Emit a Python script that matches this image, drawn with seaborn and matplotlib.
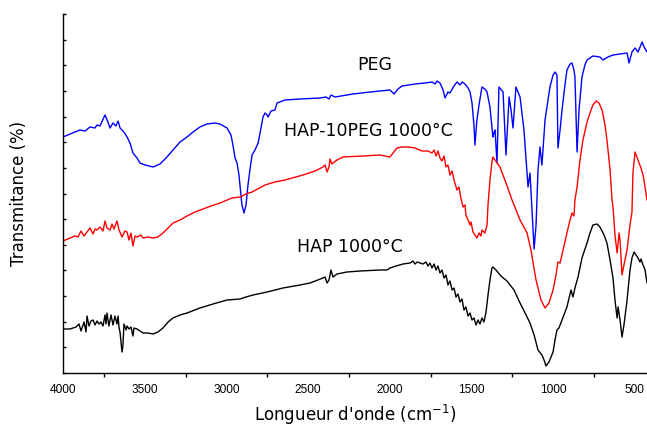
import matplotlib
matplotlib.use("Agg")
import matplotlib.pyplot as plt
from matplotlib.ticker import MultipleLocator, NullFormatter
import seaborn as sns
import pandas as pd

# ---- data (wavenumber in cm-1, transmittance in arbitrary units) ----
peg_wn = [4000, 3957, 3896, 3865, 3835, 3804, 3792, 3774, 3743, 3725, 3712, 3694, 3676, 3663, 3651,
          3627, 3608, 3590, 3572, 3547, 3529, 3498, 3449, 3406, 3364, 3327, 3284, 3241, 3204, 3162,
          3119, 3070, 3039, 2996, 2972, 2960, 2947, 2935, 2923, 2911, 2905, 2892, 2880, 2868, 2856,
          2843, 2825, 2806, 2794, 2776, 2764, 2751, 2745, 2727, 2703, 2690, 2641, 2550, 2427, 2390,
          2372, 2360, 2335, 2225, 2121, 2060, 1999, 1974, 1950, 1925, 1846, 1785, 1742, 1723, 1711,
          1693, 1674, 1662, 1644, 1632, 1607, 1589, 1570, 1558, 1540, 1521, 1509, 1497, 1485, 1479,
          1467, 1454, 1436, 1418, 1405, 1387, 1369, 1363, 1356, 1344, 1332, 1307, 1289, 1270, 1258,
          1246, 1228, 1203, 1179, 1154, 1142, 1130, 1117, 1105, 1093, 1081, 1069, 1050, 1032, 1020,
          1001, 989, 977, 971, 958, 946, 928, 916, 897, 885, 873, 867, 854, 842, 824,
          806, 793, 757, 714, 696, 665, 634, 591, 548, 536, 518, 499, 481, 463, 456,
          444, 426]
peg_t = [236, 239, 243, 242, 246, 245, 248, 247, 258, 251, 245, 250, 247, 252, 245,
         241, 236, 230, 220, 215, 210, 208, 206, 209, 216, 223, 231, 236, 241, 246,
         249, 250, 249, 245, 238, 228, 215, 210, 198, 178, 168, 160, 168, 188, 203,
         218, 223, 230, 240, 256, 260, 258, 256, 262, 263, 270, 273, 274, 275, 276,
         274, 278, 276, 279, 281, 282, 283, 279, 284, 287, 289, 290, 291, 289, 292,
         290, 283, 275, 281, 280, 287, 291, 288, 291, 289, 285, 281, 270, 248, 228,
         253, 268, 286, 284, 281, 266, 236, 240, 243, 210, 286, 281, 218, 276, 263,
         245, 286, 276, 243, 186, 200, 163, 124, 148, 203, 226, 208, 253, 273, 286,
         298, 301, 298, 225, 243, 263, 288, 303, 309, 310, 303, 296, 221, 263, 296,
         308, 313, 317, 316, 313, 316, 318, 319, 320, 310, 321, 325, 321, 328, 331,
         326, 321]

hap10peg_wn = [4000, 3957, 3927, 3908, 3890, 3871, 3853, 3835, 3816, 3804, 3792, 3774, 3755, 3743, 3731,
               3712, 3700, 3688, 3670, 3657, 3639, 3621, 3608, 3596, 3584, 3572, 3559, 3547, 3523, 3510,
               3480, 3449, 3419, 3388, 3357, 3327, 3284, 3241, 3192, 3143, 3094, 3039, 2996, 2966, 2917,
               2880, 2843, 2764, 2703, 2641, 2531, 2458, 2409, 2396, 2384, 2372, 2366, 2354, 2348, 2323,
               2287, 2164, 2060, 1999, 1980, 1956, 1925, 1889, 1846, 1803, 1766, 1742, 1729, 1717, 1705,
               1693, 1681, 1668, 1656, 1644, 1632, 1619, 1607, 1589, 1577, 1564, 1552, 1540, 1534, 1521,
               1509, 1503, 1491, 1479, 1467, 1454, 1442, 1436, 1418, 1405, 1399, 1387, 1375, 1369, 1356,
               1326, 1289, 1252, 1203, 1160, 1136, 1124, 1105, 1093, 1075, 1050, 1026, 1001, 983, 971,
               958, 940, 916, 897, 885, 873, 867, 854, 836, 818, 793, 775, 757, 738, 720,
               701, 683, 671, 652, 640, 634, 622, 609, 597, 591, 579, 567, 548, 530, 518,
               512, 499, 481, 463, 450, 438, 426]
hap10peg_t = [132, 135, 137, 136, 142, 137, 141, 145, 139, 144, 143, 146, 142, 152, 145,
              143, 149, 144, 152, 143, 136, 142, 141, 133, 140, 127, 137, 136, 138, 135,
              136, 135, 136, 140, 145, 150, 153, 157, 161, 164, 167, 170, 173, 175, 176,
              179, 181, 188, 191, 193, 198, 202, 206, 208, 201, 206, 214, 209, 210, 213,
              216, 217, 218, 216, 220, 225, 226, 226, 225, 222, 222, 220, 223, 217, 222,
              215, 212, 217, 206, 208, 198, 202, 193, 183, 186, 174, 166, 168, 158, 153,
              148, 151, 141, 138, 135, 140, 137, 143, 140, 148, 168, 193, 211, 216, 213,
              206, 190, 173, 153, 140, 123, 111, 93, 85, 73, 65, 70, 83, 98, 111,
              110, 123, 140, 153, 160, 157, 173, 186, 213, 233, 251, 260, 268, 272, 270,
              263, 248, 233, 203, 173, 166, 138, 120, 140, 133, 98, 108, 123, 148, 161,
              200, 221, 213, 205, 198, 186, 173]

hap_wn = [4000, 3957, 3920, 3902, 3890, 3871, 3859, 3853, 3841, 3829, 3816, 3804, 3792, 3780, 3768,
          3755, 3743, 3737, 3731, 3719, 3706, 3694, 3682, 3670, 3663, 3657, 3651, 3639, 3633, 3627,
          3614, 3608, 3596, 3584, 3572, 3566, 3547, 3529, 3510, 3480, 3449, 3419, 3388, 3357, 3327,
          3284, 3241, 3162, 3082, 2996, 2917, 2880, 2837, 2751, 2654, 2550, 2488, 2409, 2396, 2384,
          2372, 2360, 2348, 2323, 2262, 2182, 2060, 2017, 1999, 1962, 1919, 1876, 1858, 1846, 1833,
          1815, 1797, 1779, 1766, 1754, 1742, 1729, 1717, 1705, 1693, 1681, 1668, 1656, 1644, 1632,
          1619, 1607, 1595, 1583, 1570, 1558, 1546, 1534, 1521, 1509, 1497, 1485, 1472, 1460, 1448,
          1436, 1424, 1411, 1399, 1387, 1375, 1369, 1350, 1320, 1283, 1240, 1203, 1172, 1142, 1117,
          1093, 1069, 1056, 1044, 1026, 1001, 989, 977, 965, 946, 916, 891, 879, 867, 848,
          824, 793, 775, 757, 732, 714, 689, 671, 652, 634, 622, 609, 603, 591, 579,
          567, 548, 530, 518, 505, 493, 481, 469, 463, 450, 438, 426]
hap_t = [44, 44, 46, 49, 42, 51, 41, 57, 47, 52, 53, 48, 52, 49, 51,
         47, 58, 49, 60, 47, 58, 48, 57, 49, 57, 45, 41, 21, 28, 49,
         43, 47, 44, 46, 37, 45, 44, 42, 40, 40, 39, 41, 45, 51, 55,
         58, 60, 65, 69, 73, 74, 76, 78, 81, 85, 88, 90, 95, 96, 90,
         93, 103, 96, 99, 101, 102, 103, 103, 105, 107, 109, 110, 112, 109, 111,
         110, 109, 111, 107, 110, 105, 109, 103, 107, 100, 103, 95, 98, 88, 92,
         83, 85, 76, 79, 71, 74, 63, 66, 57, 60, 53, 55, 48, 53, 49,
         55, 51, 61, 78, 93, 105, 106, 103, 97, 92, 83, 70, 60, 50, 38,
         23, 18, 13, 7, 11, 21, 33, 43, 45, 53, 66, 83, 76, 85, 96,
         115, 130, 140, 148, 149, 146, 138, 130, 113, 95, 73, 55, 66, 53, 36,
         48, 73, 103, 115, 121, 118, 115, 111, 114, 108, 103, 90]

labels = ["PEG", "HAP-10PEG 1000°C", "HAP 1000°C"]
colors = ["#0000ff", "#ff0000", "#000000"]
x_ticks = [4000, 3500, 3000, 2500, 2000, 1500, 1000, 500]

frames = []
for name, wn, t in [(labels[0], peg_wn, peg_t), (labels[1], hap10peg_wn, hap10peg_t), (labels[2], hap_wn, hap_t)]:
    frames.append(pd.DataFrame({"wn": wn, "t": t, "sample": name}))
df = pd.concat(frames, ignore_index=True)

sns.set_theme(style="white")
plt.rcParams["font.family"] = ["DejaVu Sans"]
plt.rcParams["text.color"] = "black"
plt.rcParams["axes.labelcolor"] = "black"
plt.rcParams["xtick.color"] = "black"
plt.rcParams["ytick.color"] = "black"

fig = plt.figure(figsize=(6.47, 4.30), dpi=100)
ax = fig.add_axes([63 / 647, 57 / 430, (647 - 63) / 647, 359 / 430])

sns.lineplot(data=df, x="wn", y="t", hue="sample", palette=dict(zip(labels, colors)),
             sort=False, estimator=None, linewidth=1.0, legend=False, ax=ax)

ax.set_xlim(4000, 426)
ax.set_ylim(0, 359)

for s in ["top", "right"]:
    ax.spines[s].set_visible(False)
for s in ["left", "bottom"]:
    ax.spines[s].set_color("black")
    ax.spines[s].set_linewidth(1.0)

ax.set_xticks(x_ticks)
ax.set_xticklabels([str(v) for v in x_ticks], fontfamily="Liberation Sans", fontsize=8.6, color="black")
ax.xaxis.set_minor_locator(MultipleLocator(250))
ax.tick_params(axis="x", which="major", direction="out", length=5, width=1, color="black", pad=3)
ax.tick_params(axis="x", which="minor", direction="out", length=3, width=1, color="black", bottom=True)
ax.yaxis.set_major_locator(MultipleLocator(359 / 14))
ax.yaxis.set_major_formatter(NullFormatter())
ax.tick_params(axis="y", which="major", direction="in", length=2, width=1, color="black", left=True)

ax.set_xlabel("Longueur d'onde (cm$^{-1}$)", fontsize=12, labelpad=5, color="black")
ax.set_ylabel("Transmitance (%)", fontsize=12, labelpad=22, color="black")

ax.text(2091, 308, labels[0], ha="center", va="center", fontsize=12.5, color="black")
ax.text(2133, 242, labels[1], ha="center", va="center", fontsize=12.5, color="black")
ax.text(2244, 126, labels[2], ha="center", va="center", fontsize=12.5, color="black")

fig.savefig("out.png", dpi=100)
